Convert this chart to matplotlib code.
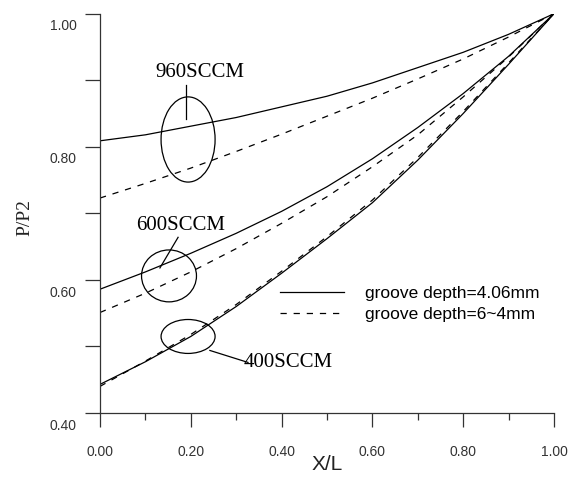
import numpy as np
import matplotlib.pyplot as plt
from matplotlib.patches import Ellipse
from matplotlib.ticker import MultipleLocator
import matplotlib.transforms as mtransforms

# dimensionless position along the channel
x_L = [0.0, 0.1, 0.2, 0.3, 0.4, 0.5, 0.6, 0.7, 0.8, 0.9, 1.0]

# pressure ratio P/P2, groove depth 4.06 mm (solid) and 6~4 mm (dashed)
p960_solid = [0.809, 0.818, 0.831, 0.844, 0.860, 0.876, 0.896, 0.919, 0.942, 0.969, 1.0]
p960_dash = [0.723, 0.745, 0.768, 0.793, 0.819, 0.846, 0.873, 0.902, 0.932, 0.965, 1.0]
p600_solid = [0.586, 0.612, 0.640, 0.670, 0.703, 0.740, 0.782, 0.829, 0.880, 0.936, 1.0]
p600_dash = [0.551, 0.580, 0.612, 0.647, 0.685, 0.725, 0.770, 0.818, 0.875, 0.935, 1.0]
p400_solid = [0.443, 0.477, 0.515, 0.560, 0.610, 0.662, 0.716, 0.780, 0.850, 0.924, 1.0]
p400_dash = [0.440, 0.478, 0.518, 0.563, 0.613, 0.665, 0.720, 0.784, 0.853, 0.926, 1.0]

legend_labels = ['groove depth=4.06mm', 'groove depth=6~4mm']
flow_labels = ['960SCCM', '600SCCM', '400SCCM']

x_ticks = [0.0, 0.2, 0.4, 0.6, 0.8, 1.0]
x_ticklabels = ['0.00', '0.20', '0.40', '0.60', '0.80', '1.00']
y_ticks = [0.4, 0.6, 0.8, 1.0]
y_ticklabels = ['0.40', '0.60', '0.80', '1.00']

fig = plt.figure(figsize=(5.73, 4.84), dpi=100)
ax = fig.add_axes([100 / 573, 71 / 484, 454 / 573, 399.3 / 484])

dash = (0, (5, 5.5))
h1, = ax.plot(x_L, p960_solid, color='black', lw=0.9)
h2, = ax.plot(x_L, p960_dash, color='black', lw=0.9, linestyle=dash)
ax.plot(x_L, p600_solid, color='black', lw=0.9)
ax.plot(x_L, p600_dash, color='black', lw=0.9, linestyle=dash)
ax.plot(x_L, p400_solid, color='black', lw=0.9)
ax.plot(x_L, p400_dash, color='black', lw=0.9, linestyle=dash)

ax.set_xlim(0, 1)
ax.set_ylim(0.4, 1.0)

for side in ['top', 'right']:
    ax.spines[side].set_visible(False)
for side in ['left', 'bottom']:
    ax.spines[side].set_color('#333333')
    ax.spines[side].set_linewidth(0.9)

ax.set_xticks(x_ticks)
ax.set_xticklabels(x_ticklabels)
ax.xaxis.set_minor_locator(MultipleLocator(0.1))
ax.set_yticks(y_ticks)
ax.set_yticklabels(y_ticklabels)
ax.yaxis.set_minor_locator(MultipleLocator(0.1))

ax.tick_params(axis='x', which='major', direction='out', length=10, width=0.9,
               color='#333333', pad=13, labelsize=10, labelcolor='#333333')
ax.tick_params(axis='x', which='minor', direction='out', length=5, width=0.9,
               color='#333333')
ax.tick_params(axis='y', which='both', direction='out', length=11, width=0.9,
               color='#333333', pad=6, labelsize=10, labelcolor='#333333')

# y tick labels sit a little below their ticks
shift = mtransforms.ScaledTranslation(0, -8 / 72, fig.dpi_scale_trans)
for lab in ax.get_yticklabels():
    lab.set_transform(lab.get_transform() + shift)
    lab.set_fontfamily('Liberation Sans')
for lab in ax.get_xticklabels():
    lab.set_fontfamily('Liberation Sans')

fig.text(327 / 573, 1 - 465 / 484, 'X/L', fontsize=15, family='Liberation Sans',
         ha='center', va='center', color='#222222')
fig.text(25 / 573, 1 - 217 / 484, 'P/P2', fontsize=14, family='Liberation Serif',
         rotation=90, ha='center', va='center', color='#222222')

# ellipses grouping each flow rate
ax.add_patch(Ellipse((0.194, 0.811), 0.119, 0.128, fill=False, lw=0.9, color='black'))
ax.add_patch(Ellipse((0.152, 0.606), 0.121, 0.078, fill=False, lw=0.9, color='black'))
ax.add_patch(Ellipse((0.194, 0.515), 0.119, 0.051, fill=False, lw=0.9, color='black'))

font_flow = dict(fontsize=15, family='Liberation Serif', ha='center', va='center')
ax.text(0.219, 0.912, flow_labels[0], **font_flow)
ax.plot([0.189, 0.189], [0.893, 0.842], color='black', lw=0.9)
ax.text(0.178, 0.681, flow_labels[1], **font_flow)
ax.plot([0.172, 0.132], [0.664, 0.618], color='black', lw=0.9)
ax.text(0.414, 0.476, flow_labels[2], **font_flow)
ax.plot([0.326, 0.242], [0.476, 0.494], color='black', lw=0.9)

leg = ax.legend([h1, h2], legend_labels, loc='upper left',
                bbox_to_anchor=(0.396, 0.318), frameon=False,
                prop={'family': 'Liberation Sans', 'size': 12.5},
                handlelength=3.7, handletextpad=1.2, labelspacing=0.35,
                borderpad=0, borderaxespad=0)

fig.savefig('out.png', dpi=100)
